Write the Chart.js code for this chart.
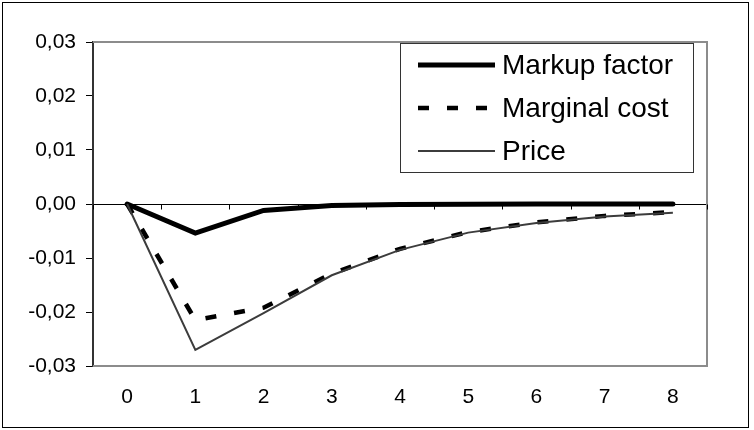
<!DOCTYPE html>
<html>
<head>
<meta charset="utf-8">
<script src="https://cdn.jsdelivr.net/npm/chart.js@4/dist/chart.umd.min.js"></script>
<style>
  html, body { margin: 0; padding: 0; background: #fff; }
  #wrap { width: 754px; height: 430px; position: relative; }
</style>
</head>
<body>
<div id="wrap"><canvas id="c"></canvas></div>
<script>
// ---- data ----
const categories = ['0', '1', '2', '3', '4', '5', '6', '7', '8'];
const markupFactor = [0, -0.0054, -0.0012, -0.0003, -0.0001, -0.00005, 0, 0, 0];
const marginalCost = [0, -0.0215, -0.0192, -0.0129, -0.0083, -0.0052, -0.0034, -0.0022, -0.0015];
const price        = [0, -0.0270, -0.0202, -0.0132, -0.0085, -0.0053, -0.0035, -0.0023, -0.0016];
const seriesNames = ['Markup factor', 'Marginal cost', 'Price'];
const yMin = -0.03, yMax = 0.03, yStep = 0.01;

const FONT = "'Liberation Sans', Arial, sans-serif";

const framePlugin = {
  id: 'frame',
  beforeDraw(chart) {
    const ctx = chart.ctx;
    ctx.save();
    ctx.fillStyle = '#fff';
    ctx.fillRect(0, 0, chart.width, chart.height);
    ctx.strokeStyle = '#000';
    ctx.lineWidth = 1;
    ctx.strokeRect(2.5, 2.5, 746, 425);
    ctx.restore();
  },
  beforeDatasetsDraw(chart) {
    const ctx = chart.ctx;
    const a = chart.chartArea;
    ctx.save();
    // gray plot frame (top, right, bottom)
    ctx.strokeStyle = '#8c8c8c';
    ctx.lineWidth = 2;
    ctx.beginPath();
    ctx.moveTo(a.left, a.top);
    ctx.lineTo(a.right, a.top);
    ctx.lineTo(a.right, a.bottom);
    ctx.lineTo(a.left, a.bottom);
    ctx.stroke();
    // category tick marks hanging from zero line
    const xs = chart.scales.x, ys = chart.scales.y;
    const y0 = Math.round(ys.getPixelForValue(0)) + 0.5;
    const n = categories.length;
    ctx.strokeStyle = '#000';
    ctx.lineWidth = 1;
    ctx.beginPath();
    for (let i = 0; i <= n; i++) {
      let px;
      if (i === 0) px = xs.left;
      else if (i === n) px = xs.right;
      else px = (xs.getPixelForValue(i - 1) + xs.getPixelForValue(i)) / 2;
      px = Math.round(px) + 0.5;
      ctx.moveTo(px, y0);
      ctx.lineTo(px, y0 + 5);
    }
    ctx.stroke();
    ctx.restore();
  },
  afterDraw(chart) {
    // legend box inside the plot area
    const ctx = chart.ctx;
    const a = chart.chartArea;
    const bx = 400.5, by = a.top + 1.5, bw = 293, bh = 129;
    ctx.save();
    ctx.fillStyle = '#fff';
    ctx.fillRect(bx, by, bw, bh);
    ctx.strokeStyle = '#333';
    ctx.lineWidth = 1;
    ctx.strokeRect(bx, by, bw, bh);
    const rows = [65, 108, 151];
    chart.data.datasets.forEach((ds, i) => {
      const cy = rows[i];
      ctx.strokeStyle = ds.borderColor;
      ctx.lineWidth = ds.borderWidth;
      ctx.setLineDash(ds.borderDash || []);
      ctx.lineCap = 'butt';
      ctx.beginPath();
      ctx.moveTo(418, cy);
      ctx.lineTo(495, cy);
      ctx.stroke();
      ctx.setLineDash([]);
      ctx.fillStyle = '#000';
      ctx.font = '28px ' + FONT;
      ctx.textBaseline = 'middle';
      ctx.textAlign = 'left';
      ctx.fillText(ds.label, 502, cy + 1);
    });
    ctx.restore();
  }
};

new Chart(document.getElementById('c'), {
  type: 'line',
  data: {
    labels: categories,
    datasets: [
      { label: seriesNames[0], data: markupFactor, borderColor: '#000', borderWidth: 5,
        pointRadius: 0, tension: 0, order: 3, borderCapStyle: 'round', borderJoinStyle: 'miter' },
      { label: seriesNames[1], data: marginalCost, borderColor: '#000', borderWidth: 4.5,
        borderDash: [11, 18], pointRadius: 0, tension: 0, order: 2 },
      { label: seriesNames[2], data: price, borderColor: '#3c3c3c', borderWidth: 2,
        pointRadius: 0, tension: 0, order: 1 }
    ]
  },
  options: {
    responsive: true,
    maintainAspectRatio: false,
    animation: false,
    events: [],
    layout: { padding: { top: 42, right: 47, left: 0, bottom: 0 } },
    plugins: { legend: { display: false }, tooltip: { enabled: false } },
    scales: {
      x: {
        type: 'category',
        offset: true,
        grid: { display: false, drawTicks: false },
        border: { display: false },
        ticks: { color: '#000', font: { family: FONT, size: 21 }, padding: 19, maxRotation: 0 },
        afterFit(s) { s.height = 64; }
      },
      y: {
        min: yMin, max: yMax,
        grid: {
          color: c => (c.tick && Math.abs(c.tick.value) < 1e-9) ? '#000' : 'rgba(0,0,0,0)',
          lineWidth: 1,
          drawTicks: true,
          tickLength: 7,
          tickColor: '#000'
        },
        border: { display: true, color: '#333', width: 2 },
        ticks: {
          stepSize: yStep,
          color: '#000',
          padding: 10,
          font: { family: FONT, size: 21 },
          callback: v => (Math.abs(v) < 1e-9 ? 0 : v).toFixed(2).replace('.', ',')
        },
        afterFit(s) { s.width = 93; }
      }
    }
  },
  plugins: [framePlugin]
});
</script>
</body>
</html>
